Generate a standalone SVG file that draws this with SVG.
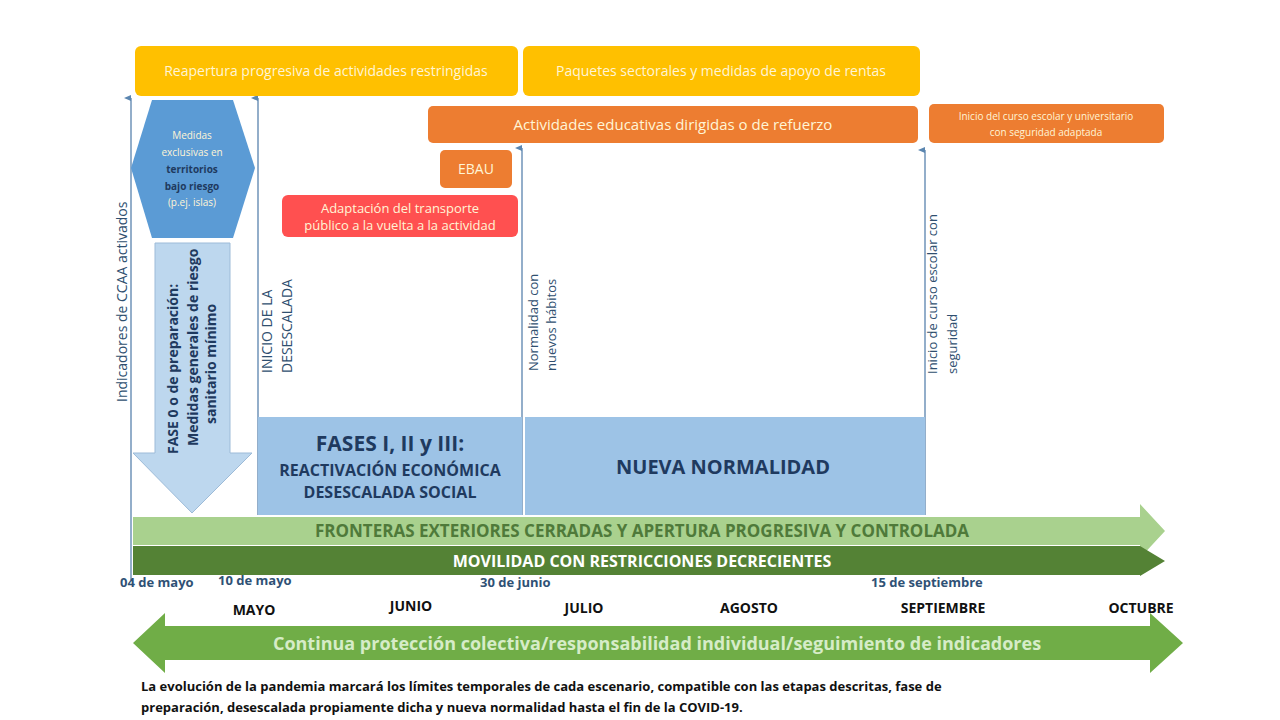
<svg xmlns="http://www.w3.org/2000/svg" width="1280" height="720" viewBox="0 0 1280 720">
<defs>
<marker id="ah" markerWidth="8" markerHeight="8" refX="4" refY="7" orient="auto" markerUnits="userSpaceOnUse"><path d="M1,7 L4,0 L7,7 Z" fill="#5b86b0"/></marker>
<style>
text{font-family:"Open Sans","Liberation Sans",sans-serif}
.yl{fill:#ffc000}
.or{fill:#ed7d31}
.wt{fill:#fff5d6;font-size:14px;text-anchor:middle}
.sm{font-size:10px}
.vl{stroke:#6f93b8;stroke-width:1.5;fill:none}
.vt{fill:#2f4f6f;font-size:14px}
.mo{font-size:14px;font-weight:bold;fill:#111;text-anchor:middle}
.dt{font-size:13px;font-weight:bold;fill:#2f5175}
</style>
</defs>
<rect width="1280" height="720" fill="#fff"/>
<g id="connectors">
<line class="vl" x1="131" y1="580" x2="131" y2="98" marker-end="url(#ah)"/>
<line class="vl" x1="258" y1="515" x2="258" y2="98" marker-end="url(#ah)"/>
<line class="vl" x1="522" y1="515" x2="522" y2="148" marker-end="url(#ah)"/>
<line class="vl" x1="925" y1="515" x2="925" y2="150" marker-end="url(#ah)"/>
</g>
<g id="n-reapertura"><rect x="135" y="46" width="383" height="50" rx="6" class="yl"/><text x="326" y="76" class="wt">Reapertura progresiva de actividades restringidas</text></g>
<g id="n-paquetes"><rect x="523" y="46" width="397" height="50" rx="6" class="yl"/><text x="721" y="76" class="wt">Paquetes sectorales y medidas de apoyo de rentas</text></g>
<g id="n-actividades"><rect x="428" y="106" width="490" height="37" rx="5" class="or"/><text x="673" y="130" class="wt" style="font-size:15px">Actividades educativas dirigidas o de refuerzo</text></g>
<g id="n-inicio-curso"><rect x="929" y="104" width="235" height="39" rx="5" class="or"/><text x="1046" y="120" class="wt sm">Inicio  del curso escolar y universitario</text><text x="1046" y="136" class="wt sm">con seguridad adaptada</text></g>
<g id="n-ebau"><rect x="440" y="150" width="72" height="38" rx="5" class="or"/><text x="476" y="174" class="wt">EBAU</text></g>
<g id="n-transporte"><rect x="282" y="195" width="236" height="42" rx="6" fill="#ff5050"/><text x="400" y="213" class="wt" style="font-size:13px">Adaptación del transporte</text><text x="400" y="230" class="wt" style="font-size:13px">público a la vuelta a la actividad</text></g>
<g id="n-medidas"><path d="M152,100 L233,100 L255,168 L233,238 L152,238 L131,168 Z" fill="#5b9bd5"/>
<text x="192" y="139" class="wt sm" fill="#e8f0fa">Medidas</text>
<text x="192" y="156" class="wt sm" fill="#e8f0fa">exclusivas  en</text>
<text x="192" y="173" class="wt sm" font-weight="bold" style="fill:#1f3a5f">territorios</text>
<text x="192" y="190" class="wt sm" font-weight="bold" style="fill:#1f3a5f">bajo riesgo</text>
<text x="192" y="206" class="wt sm" fill="#e8f0fa">(p.ej. islas)</text></g>
<g id="n-fase0"><path d="M155,243 L230,243 L230,453 L252,453 L192,513 L133,453 L155,453 Z" fill="#bdd7ee" stroke="#9dbbd8"/>
<text transform="translate(178,454) rotate(-90)" font-size="14" font-weight="bold" fill="#1f3a5f">FASE 0 o de preparación:</text>
<text transform="translate(198,446) rotate(-90)" font-size="14" font-weight="bold" fill="#1f3a5f">Medidas generales de riesgo</text>
<text transform="translate(216,424) rotate(-90)" font-size="14" font-weight="bold" fill="#1f3a5f">sanitario mínimo</text></g>
<g id="n-lbl-ccaa"><text transform="translate(127,402) rotate(-90)" class="vt">Indicadores de CCAA activados</text></g>
<g id="n-lbl-inicio"><text transform="translate(272,373) rotate(-90)" class="vt">INICIO DE LA</text><text transform="translate(292,373) rotate(-90)" class="vt">DESESCALADA</text></g>
<g id="n-lbl-normalidad"><text transform="translate(538,371) rotate(-90)" class="vt" style="font-size:13px">Normalidad con</text><text transform="translate(556,371) rotate(-90)" class="vt" style="font-size:13px">nuevos hábitos</text></g>
<g id="n-lbl-curso"><text transform="translate(937,374) rotate(-90)" class="vt" style="font-size:13px">Inicio de curso escolar con</text><text transform="translate(957,374) rotate(-90)" class="vt" style="font-size:13px">seguridad</text></g>
<g id="n-fases"><rect x="258" y="417" width="264" height="98" fill="#9dc3e6"/>
<text x="390" y="451" font-size="21" font-weight="bold" fill="#1f3a5f" text-anchor="middle">FASES I, II y III:</text>
<text x="390" y="476" font-size="16" font-weight="bold" fill="#1f3a5f" text-anchor="middle">REACTIVACIÓN ECONÓMICA</text>
<text x="390" y="498" font-size="16" font-weight="bold" fill="#1f3a5f" text-anchor="middle">DESESCALADA SOCIAL</text></g>
<g id="n-nueva"><rect x="525" y="417" width="400" height="98" fill="#9dc3e6"/>
<text x="723" y="474" font-size="20" font-weight="bold" fill="#1f3a5f" text-anchor="middle">NUEVA NORMALIDAD</text></g>
<g id="n-fronteras"><path d="M133,517 L1140,517 L1140,504 L1165,531 L1140,558 L1140,545 L133,545 Z" fill="#a9d18e"/>
<text x="642" y="537" font-size="17" font-weight="bold" fill="#4f7a3a" text-anchor="middle">FRONTERAS EXTERIORES CERRADAS Y APERTURA PROGRESIVA Y CONTROLADA</text></g>
<g id="n-movilidad"><path d="M133,546 L1140,546 L1165,561 L1140,576 L1140,575 L133,575 Z" fill="#548235"/>
<text x="642" y="567" font-size="16" font-weight="bold" fill="#fff" text-anchor="middle">MOVILIDAD CON RESTRICCIONES DECRECIENTES</text></g>
<g id="n-fechas">
<text x="120" y="587" class="dt">04 de mayo</text>
<text x="218" y="585" class="dt">10 de mayo</text>
<text x="480" y="587" class="dt">30 de junio</text>
<text x="871" y="587" class="dt">15 de septiembre</text>
<text x="254" y="615" class="mo">MAYO</text>
<text x="411" y="611" class="mo">JUNIO</text>
<text x="584" y="613" class="mo">JULIO</text>
<text x="749" y="613" class="mo">AGOSTO</text>
<text x="943" y="613" class="mo">SEPTIEMBRE</text>
<text x="1141" y="613" class="mo">OCTUBRE</text></g>
<g id="n-continua"><path d="M133,643 L165,613 L165,626 L1150,626 L1150,613 L1183,643 L1150,673 L1150,660 L165,660 L165,673 Z" fill="#70ad47"/>
<text x="657" y="650" font-size="18" font-weight="bold" fill="#d6ecc8" text-anchor="middle">Continua protección colectiva/responsabilidad individual/seguimiento de indicadores</text></g>
<g id="n-nota">
<text x="141" y="691" font-size="13" font-weight="bold" fill="#111">La evolución de la pandemia marcará  los límites temporales de cada escenario, compatible con las etapas descritas, fase de</text>
<text x="141" y="712" font-size="13" font-weight="bold" fill="#111">preparación, desescalada propiamente dicha y nueva normalidad  hasta el fin de la COVID-19.</text></g>
</svg>
